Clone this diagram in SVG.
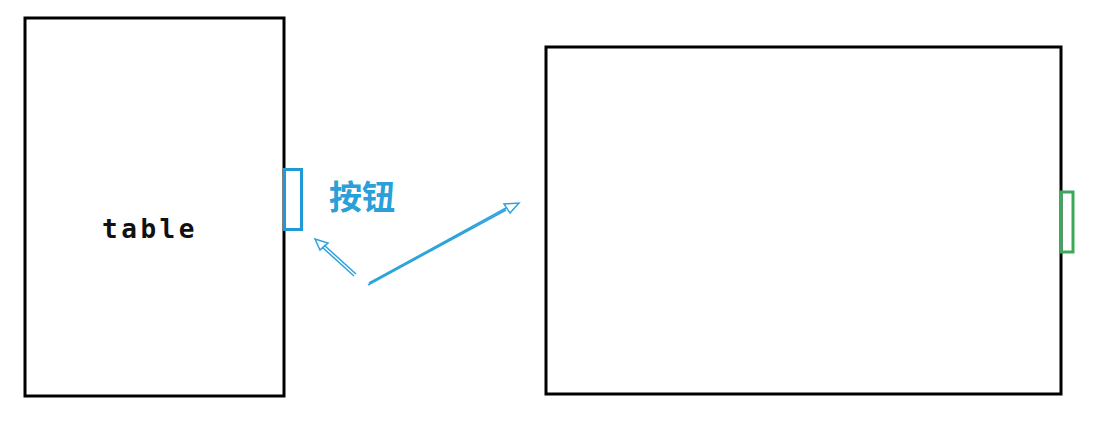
<svg xmlns="http://www.w3.org/2000/svg" width="1105" height="433" viewBox="0 0 1105 433">
<style>
.box{fill:none;stroke:#000;stroke-width:3}
.btn{fill:none;stroke-width:3}
.arr{fill:none;stroke:#2ea3dc;stroke-width:1.5}
.lbl{font-family:"Noto Sans CJK SC","Noto Sans",sans-serif;font-weight:bold;font-size:33px;fill:#2a9fd8}
.tt{font-family:"DejaVu Sans Mono","Liberation Mono",monospace;font-weight:bold;font-size:26px;fill:#111;letter-spacing:3.5px}
</style>
<rect width="1105" height="433" fill="#fff"/>
<g id="table-node">
<rect class="box" x="25" y="18" width="259" height="378"/>
<text class="tt" x="150" y="238" text-anchor="middle">table</text>
</g>
<g id="button-left">
<rect class="btn" x="284.5" y="169.5" width="17" height="60" stroke="#1e9ad6"/>
</g>
<g id="button-label">
<text class="lbl" x="329" y="209">按钮</text>
</g>
<g id="panel-node">
<rect class="box" x="546" y="47" width="515" height="347"/>
</g>
<g id="button-right">
<rect class="btn" x="1061" y="192" width="12" height="60" stroke="#3aaa5a"/>
</g>
<g id="connectors">
<path class="arr" d="M354 276 L322 247 M356 274 L324 245"/>
<path class="arr" d="M315 239 L328 243 L320 250 Z"/>
<path class="arr" d="M368 285 L506 210 M369 283 L506 208"/>
<path class="arr" d="M519 203 L510 213 L504 204 Z"/>
</g>
</svg>
